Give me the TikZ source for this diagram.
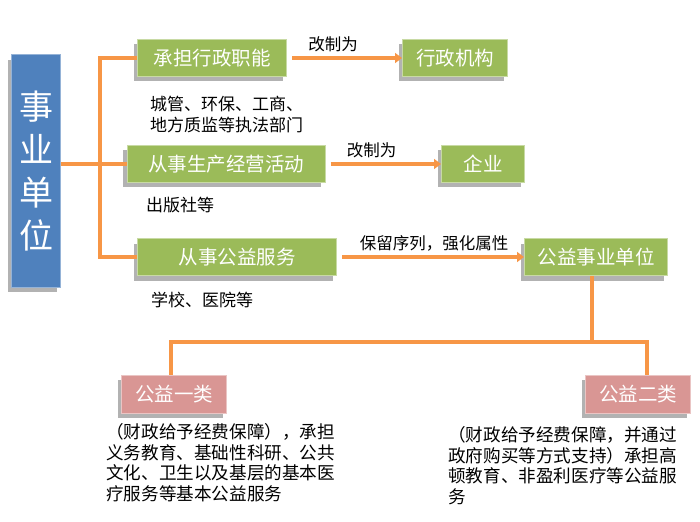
\documentclass[tikz,border=0pt]{standalone}
\usepackage{fontspec}
\setmainfont{Noto Sans CJK SC}
\usepackage{tikz}
\usetikzlibrary{arrows.meta,calc,positioning,shadows}

\definecolor{boxgreen}{RGB}{155,187,89}
\definecolor{boxblue}{RGB}{79,129,189}
\definecolor{boxpink}{RGB}{217,150,148}
\definecolor{linkorange}{RGB}{247,150,70}

\begin{document}
\begin{tikzpicture}[x=1pt, y=-1pt,
  every node/.style={inner sep=0pt},
  shade box/.style={drop shadow={shadow xshift=-4pt, shadow yshift=-5pt, fill=black, opacity=0.3}},
  green box/.style={shade box, fill=boxgreen, draw=boxgreen!55!white, line width=1pt, text=white, font=\fontsize{19.5}{19.5}\selectfont, minimum height=37pt},
  pink box/.style={shade box, fill=boxpink, draw=boxpink!55!white, line width=1pt, text=white, font=\fontsize{19.5}{19.5}\selectfont, minimum height=38pt, minimum width=105pt},
  link/.style={draw=linkorange, line width=4pt},
  link arrow/.style={link, -{Triangle[length=7pt, width=10pt]}, shorten <=5pt},
  note/.style={align=left, anchor=north west, font=\fontsize{17}{20.5}\selectfont},
  long note/.style={note, font=\fontsize{17.6}{20.8}\selectfont},
  arrow note/.style={above=4pt, font=\fontsize{16.5}{16.5}\selectfont}]

  \useasboundingbox (0,0) rectangle (700,521) ;

  \node (sydw) [shade box, fill=boxblue, draw=boxblue!60!white, line width=1pt, minimum width=49pt, minimum height=232pt, text=white, align=center, font=\fontsize{34}{43}\selectfont] at (36,171) {事\\业\\单\\位} ;

  \node (cdxz) [green box, minimum width=149pt] at (212,58) {承担行政职能} ;

  \node (cssc) [green box, minimum width=198pt] at (226,164) {从事生产经营活动} ;

  \node (csgy) [green box, minimum width=199pt] at (237,257) {从事公益服务} ;

  \node (xzjg) [green box, minimum width=105pt] at (455,58) {行政机构} ;

  \node (qiye) [green box, minimum width=83pt] at (483,164) {企业} ;

  \node (gysy) [green box, minimum width=143pt] at (596,257) {公益事业单位} ;

  \node (gyyl) [pink box] at (174,394) {公益一类} ;

  \node (gyel) [pink box] at (638,394) {公益二类} ;

  %
  \node (zfbm) [note] at (150,96) {城管、环保、工商、\\地方质监等执法部门} ;

  \node (cbs) [note] at (146,197) {出版社等} ;

  \node (xxyy) [note] at (151,292) {学校、医院等} ;

  \node (yldesc) [long note] at (106,423) {（财政给予经费保障），承担\\义务教育、基础性科研、公共\\文化、卫生以及基层的基本医\\疗服务等基本公益服务} ;

  \node (eldesc) [long note] at (448,426) {（财政给予经费保障，并通过\\政府购买等方式支持）承担高\\顿教育、非盈利医疗等公益服\\务} ;

  \coordinate (fork) at (100,164) ;

  \coordinate (split) at (592,342) ;

  \draw [link] (sydw.east |- fork) -- (fork) -- (cssc.west) ;

  \draw [link] (cdxz.west) -| (fork) |- (csgy.west) ;

  \draw [link arrow] (cdxz) -- node [arrow note, pos=0.4] {改制为} (xzjg) ;

  \draw [link arrow] (cssc) -- node [arrow note, pos=0.4] {改制为} (qiye) ;

  \draw [link arrow] (csgy) -- node [arrow note, pos=0.52] {保留序列，强化属性} (gysy) ;

  \draw [link] (gysy.south -| split) -- (split) ;

  \draw [link] ([xshift=-3pt]gyyl.north) |- (split) -| ([xshift=9pt]gyel.north) ;

\end{tikzpicture}
\end{document}
